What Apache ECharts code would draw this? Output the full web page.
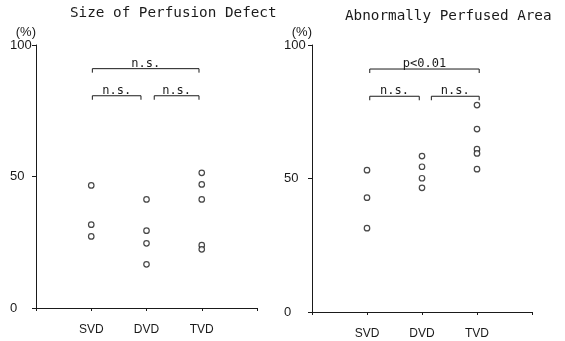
<!DOCTYPE html>
<html>
<head>
<meta charset="utf-8">
<script src="https://cdn.jsdelivr.net/npm/echarts@6/dist/echarts.min.js"></script>
<style>
  html, body { margin: 0; padding: 0; background: #fff; }
  #main { width: 565px; height: 341px; }
</style>
</head>
<body>
<div id="main"></div>
<script>
// 数据
var categories = ['SVD', 'DVD', 'TVD'];
var yTicks = [0, 50, 100];

// Size of Perfusion Defect (%)
var defectSVD = [46.6, 31.7, 27.2];
var defectDVD = [41.3, 29.4, 24.6, 16.6];
var defectTVD = [51.4, 47.0, 41.3, 23.9, 22.3];

// Abnormally Perfused Area (%)
var areaSVD = [53.1, 42.8, 31.4];
var areaDVD = [58.4, 54.4, 50.1, 46.5];
var areaTVD = [77.5, 68.5, 61.0, 59.4, 53.5];

// 显著性标注: [起点, 终点, 高度, 文字]
var defectBrackets = [[1.02, 2.95, 91, 'n.s.'], [1.02, 1.9, 80.7, 'n.s.'], [2.14, 2.95, 80.7, 'n.s.']];
var areaBrackets = [[1.05, 3.04, 91, 'p<0.01'], [1.05, 1.95, 80.8, 'n.s.'], [2.17, 3.04, 80.8, 'n.s.']];

var ink = '#1a1a1a';

function points(groups) {
  var out = [];
  groups.forEach(function (vals, i) {
    vals.forEach(function (v) { out.push([i + 1, v]); });
  });
  return out;
}

function xAxisOf(idx) {
  return {
    gridIndex: idx,
    type: 'value',
    min: 0,
    max: 4,
    interval: 1,
    splitLine: { show: false },
    axisLine: { lineStyle: { color: ink, width: 1 } },
    axisTick: { length: 3, lineStyle: { color: ink } },
    axisLabel: {
      margin: 16,
      color: ink,
      fontSize: 12,
      fontFamily: 'Liberation Sans',
      formatter: function (v) { return categories[v - 1] || ''; }
    }
  };
}

function yAxisOf(idx, margin) {
  return {
    gridIndex: idx,
    type: 'value',
    min: yTicks[0],
    max: yTicks[yTicks.length - 1],
    interval: yTicks[1] - yTicks[0],
    name: '(%)',
    nameLocation: 'end',
    nameGap: 4,
    nameTextStyle: { color: ink, fontSize: 13, align: 'right', verticalAlign: 'bottom', fontFamily: 'Liberation Sans' },
    splitLine: { show: false },
    axisLine: { show: true, lineStyle: { color: ink, width: 1 } },
    axisTick: { length: 4, lineStyle: { color: ink } },
    axisLabel: { align: 'left', margin: margin, color: ink, fontSize: 13, fontFamily: 'Liberation Sans' }
  };
}

function scatterOf(idx, groups) {
  return {
    type: 'scatter',
    xAxisIndex: idx,
    yAxisIndex: idx,
    symbol: 'circle',
    symbolSize: 5.5,
    itemStyle: { color: '#fff', borderColor: ink, borderWidth: 1.2 },
    data: points(groups)
  };
}

function bracketsOf(idx, list) {
  return {
    type: 'custom',
    xAxisIndex: idx,
    yAxisIndex: idx,
    data: list.map(function (b) { return [b[0], b[1], b[2]]; }),
    encode: { x: [0, 1], y: 2 },
    renderItem: function (params, api) {
      var a = api.coord([api.value(0), api.value(2)]);
      var b = api.coord([api.value(1), api.value(2)]);
      return {
        type: 'group',
        children: [
          {
            type: 'polyline',
            shape: { points: [[a[0], a[1] + 4], [a[0], a[1]], [b[0], b[1]], [b[0], b[1] + 4]] },
            style: { stroke: ink, fill: null, lineWidth: 1 }
          },
          {
            type: 'text',
            x: (a[0] + b[0]) / 2,
            y: a[1] + 1,
            style: {
              text: list[params.dataIndex][3],
              fill: ink,
              fontSize: 12,
              fontFamily: 'DejaVu Sans Mono',
              align: 'center',
              verticalAlign: 'bottom'
            }
          }
        ]
      };
    }
  };
}

var myChart = echarts.init(document.getElementById('main'));
var option = {
  backgroundColor: '#fff',
  animation: false,
  title: [
    {
      text: 'Size of Perfusion Defect',
      left: 70,
      top: 6,
      padding: 0,
      textStyle: { color: ink, fontSize: 14.3, fontWeight: 'normal', fontFamily: 'DejaVu Sans Mono' }
    },
    {
      text: 'Abnormally Perfused Area',
      left: 345,
      top: 9,
      padding: 0,
      textStyle: { color: ink, fontSize: 14.3, fontWeight: 'normal', fontFamily: 'DejaVu Sans Mono' }
    }
  ],
  grid: [
    { left: 36, right: 308, top: 45, bottom: 33 },
    { left: 312, right: 33, top: 45, bottom: 29 }
  ],
  xAxis: [xAxisOf(0), xAxisOf(1)],
  yAxis: [yAxisOf(0, 26), yAxisOf(1, 28)],
  series: [
    scatterOf(0, [defectSVD, defectDVD, defectTVD]),
    scatterOf(1, [areaSVD, areaDVD, areaTVD]),
    bracketsOf(0, defectBrackets),
    bracketsOf(1, areaBrackets)
  ]
};
myChart.setOption(option);
</script>
</body>
</html>
